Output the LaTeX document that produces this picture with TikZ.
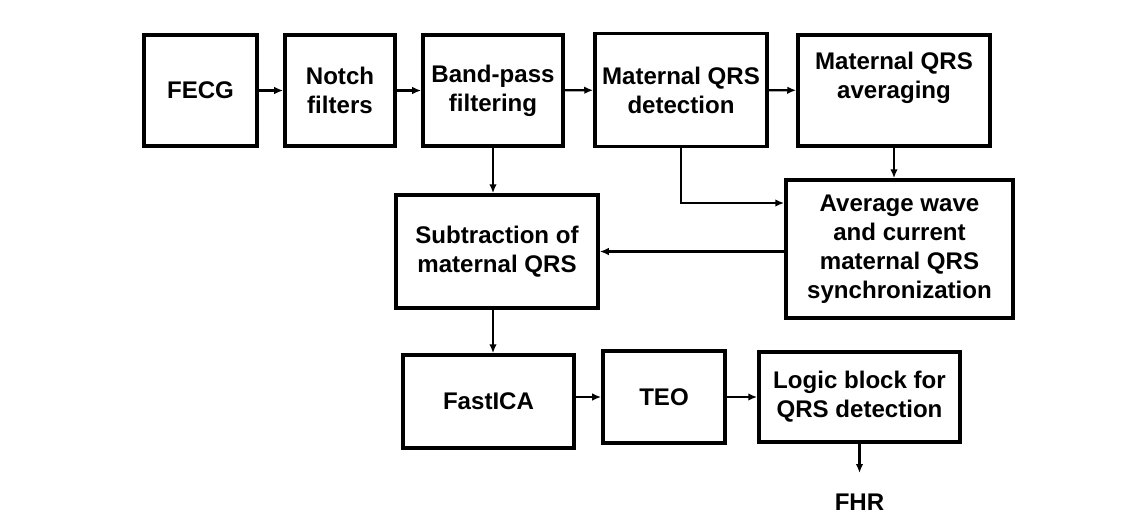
\documentclass[tikz,border=0pt]{standalone}
\usepackage{fontspec}
\setmainfont{Liberation Sans}
\usetikzlibrary{arrows.meta}

\begin{document}
\begin{tikzpicture}[stream/.style={-{Latex[length=1.8mm,width=1.5mm]},line width=1.3pt},
    txt/.style={align=center,font=\fontsize{13.7}{16.5}\selectfont\bfseries},
    block/.style={txt,draw,line width=2pt,minimum height=2.22cm,inner sep=2pt}]
    \useasboundingbox (0,0) rectangle (22.86,-10.32);
    %top row
    \node [block,minimum width=2.26cm] (fecg) at (4.01,-1.81){FECG};
    \node [block,minimum width=2.20cm] (notch) at (6.80,-1.81){Notch\\filters};
    \node [block,minimum width=2.80cm] (band) at (9.86,-1.81){Band-pass\\filtering};
    \node [block,minimum width=3.44cm,minimum height=2.26cm] (mqd) at (13.62,-1.80){Maternal QRS\\detection};
    %averaging, text sits high in the box
    \node [block,minimum width=3.84cm] (avg) at (17.88,-1.81){};
    \node [txt] (avgtext) at (17.88,-1.56){Maternal QRS\\averaging};
    %middle row
    \node [block,minimum width=4.54cm,minimum height=2.76cm] (sync) at (17.99,-4.98)
          {Average wave\\and current\\maternal QRS\\synchronization};
    \node [block,minimum width=4.04cm,minimum height=2.26cm] (sub) at (9.94,-5.03)
          {Subtraction of\\maternal QRS};
    %bottom row
    \node [block,minimum width=3.42cm,minimum height=1.86cm] (fica) at (9.77,-8.03){FastICA};
    \node [block,minimum width=2.44cm,minimum height=1.84cm] (teo) at (13.28,-7.94){TEO};
    \node [block,minimum width=4.02cm,minimum height=1.80cm] (logic) at (17.19,-7.94)
          {Logic block for\\QRS detection};
    \node [txt,inner sep=0pt,anchor=north] (fhr) at (17.19,-9.87){FHR};
    % arrows
    \draw [stream] (fecg) -- (notch);
    \draw [stream] (notch) -- (band);
    \draw [stream] (band) -- (mqd);
    \draw [stream] (mqd) -- (avg);
    \draw [stream] (avg.south) -- (avg.south |- sync.north);
    \draw [stream] (mqd.south) |- ([yshift=0.92cm]sync.west);
    \draw [stream] (band.south) -- (band.south |- sub.north);
    \draw [stream] (sub.east -| sync.west) -- (sub.east);
    \draw [stream] (sub.south -| band) -- (fica.north -| band);
    \draw [stream] (fica.east |- teo.west) -- (teo.west);
    \draw [stream] (teo) -- (logic);
    \draw [stream,shorten >=0.41cm] (logic.south) -- (fhr.north);
\end{tikzpicture}
\end{document}
